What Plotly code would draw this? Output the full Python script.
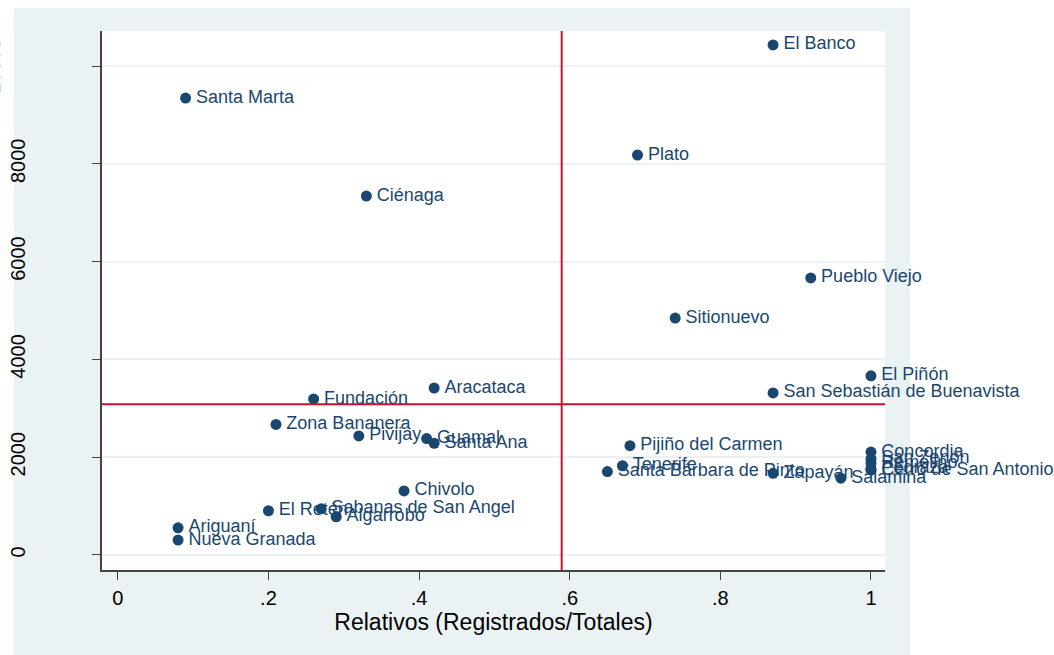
import numpy as np
import plotly.graph_objects as go

# Municipios del Magdalena: registro relativo vs. número absoluto
municipios = [
    "El Banco", "Santa Marta", "Plato", "Ciénaga", "Pueblo Viejo", "Sitionuevo",
    "El Piñón", "Aracataca", "San Sebastián de Buenavista", "Fundación",
    "Zona Bananera", "Pivijay", "Guamal", "Santa Ana", "Pijiño del Carmen",
    "Concordia", "San Zenón", "Remolino", "Pedraza", "Cerro de San Antonio",
    "Tenerife", "Santa Bárbara de Pinto", "Zapayán", "Salamina", "Chivolo",
    "Sabanas de San Angel", "El Retén", "Algarrobo", "Ariguaní", "Nueva Granada",
]
relativos = [
    0.87, 0.09, 0.69, 0.33, 0.92, 0.74,
    1.00, 0.42, 0.87, 0.26,
    0.21, 0.32, 0.41, 0.42, 0.68,
    1.00, 1.00, 1.00, 1.00, 1.00,
    0.67, 0.65, 0.87, 0.96, 0.38,
    0.27, 0.20, 0.29, 0.08, 0.08,
]
absolutos = [
    10430, 9345, 8180, 7340, 5665, 4845,
    3665, 3415, 3315, 3190,
    2670, 2435, 2380, 2285, 2235,
    2105, 1965, 1880, 1770, 1735,
    1825, 1705, 1670, 1570, 1310,
    945, 905, 780, 555, 305,
]

x_ticks = [0, 0.2, 0.4, 0.6, 0.8, 1.0]
x_ticklabels = ["0", ".2", ".4", ".6", ".8", "1"]
y_ticks = [0, 2000, 4000, 6000, 8000, 10000]
y_ticklabels = ["0", "2000", "4000", "6000", "8000", ""]

NAVY = "#1A476F"
BG = "#EAF2F3"
RED = "#C4122F"
FONT = "Liberation Sans, Arial, sans-serif"

W, H = 1054, 655
L, R, T, B = 102, 169, 31, 85
pw, ph = W - L - R, H - T - B


def px_x(p):
    return (p - L) / pw


def px_y(p):
    return (H - B - p) / ph


fig = go.Figure()
# markers
fig.add_trace(go.Scatter(
    x=relativos, y=absolutos, mode="markers",
    marker=dict(color=NAVY, size=11, line=dict(width=0)),
    cliponaxis=False, hoverinfo="skip",
))
# labels, pushed a little further from the markers by a wider invisible marker
fig.add_trace(go.Scatter(
    x=relativos, y=absolutos, text=municipios,
    mode="markers+text", textposition="middle right",
    marker=dict(color="rgba(0,0,0,0)", size=15, line=dict(width=0)),
    textfont=dict(color=NAVY, size=18, family=FONT),
    cliponaxis=False, hoverinfo="text",
))

mx = float(np.mean(relativos))
my = float(np.mean(absolutos))

shapes = [
    # white margins around the graph region
    dict(type="rect", xref="paper", yref="paper", layer="below",
         x0=-0.5, x1=px_x(14), y0=-0.5, y1=1.5, fillcolor="white", line_width=0),
    dict(type="rect", xref="paper", yref="paper", layer="below",
         x0=-0.5, x1=1.5, y0=px_y(8), y1=1.5, fillcolor="white", line_width=0),
    dict(type="rect", xref="paper", yref="paper", layer="below",
         x0=px_x(910), x1=1.5, y0=-0.5, y1=1.5, fillcolor="white", line_width=0),
    # mean reference lines
    dict(type="line", xref="x", yref="paper", x0=mx, x1=mx, y0=0, y1=1,
         line=dict(color=RED, width=2)),
    dict(type="line", xref="paper", yref="y", x0=0, x1=1, y0=my, y1=my,
         line=dict(color=RED, width=2)),
]

fig.update_layout(
    width=W, height=H,
    margin=dict(l=L, r=R, t=T, b=B, autoexpand=False),
    paper_bgcolor=BG, plot_bgcolor="white",
    showlegend=False,
    font=dict(family=FONT, color="black"),
    shapes=shapes,
    annotations=[dict(
        xref="paper", yref="y", x=px_x(6), y=10000, xanchor="right",
        yanchor="middle", text="10000", textangle=-90, showarrow=False,
        font=dict(size=20, family=FONT, color="black"),
    )],
    xaxis=dict(
        range=[-0.021, 1.0186], tickvals=x_ticks, ticktext=x_ticklabels,
        showgrid=False, zeroline=False, showline=True, linecolor="#444",
        linewidth=1.5, ticks="outside", ticklen=8, tickcolor="#444",
        tickfont=dict(size=20), ticklabelstandoff=1, automargin=False,
        title=dict(text="Relativos (Registrados/Totales)", font=dict(size=23),
                   standoff=0),
    ),
    yaxis=dict(
        range=[-307, 10716], tickvals=y_ticks, ticktext=y_ticklabels,
        showgrid=True, gridcolor=BG, gridwidth=2, zeroline=False,
        showline=True, linecolor="#444", linewidth=1.5, ticks="outside",
        ticklen=8, tickcolor="#444", tickangle=-90, tickfont=dict(size=20),
        ticklabelstandoff=59, automargin=False,
    ),
)

fig.write_html("out.html")
